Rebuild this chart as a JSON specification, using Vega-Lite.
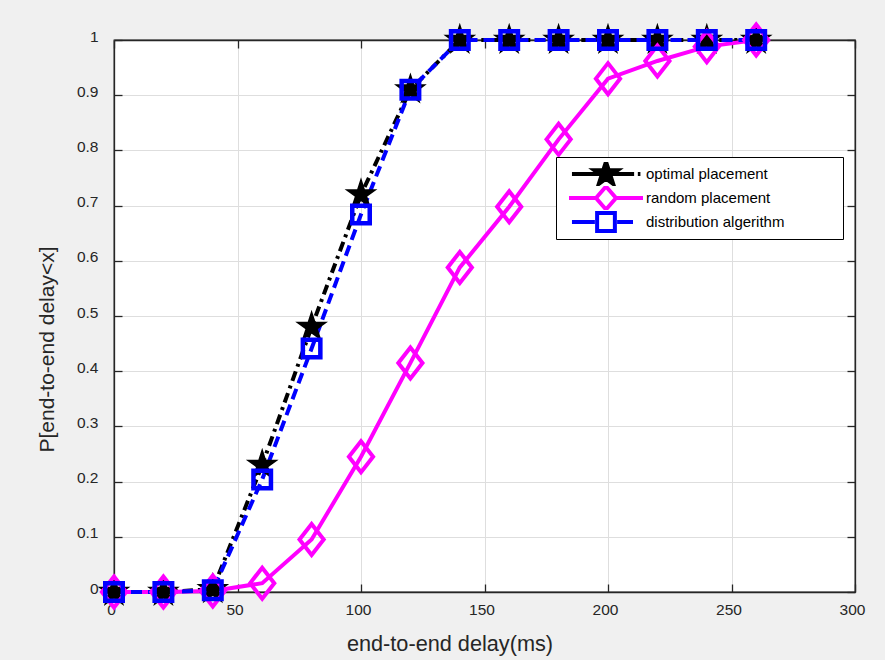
{
  "$schema": "https://vega.github.io/schema/vega-lite/v6.json",
  "width": 741,
  "height": 552,
  "autosize": {"type": "none"},
  "padding": {"left": 114, "top": 40, "right": 30, "bottom": 68},
  "background": "#f0f0f0",
  "config": {
    "font": "Liberation Sans",
    "view": {"fill": "white", "stroke": "#262626", "strokeWidth": 1.3}
  },
  "data": {
    "values": [
      {"x": 0, "p": 0, "s": "optimal placement"},
      {"x": 20, "p": 0, "s": "optimal placement"},
      {"x": 40, "p": 0.005, "s": "optimal placement"},
      {"x": 60, "p": 0.23, "s": "optimal placement"},
      {"x": 80, "p": 0.48, "s": "optimal placement"},
      {"x": 100, "p": 0.72, "s": "optimal placement"},
      {"x": 120, "p": 0.91, "s": "optimal placement"},
      {"x": 140, "p": 1, "s": "optimal placement"},
      {"x": 160, "p": 1, "s": "optimal placement"},
      {"x": 180, "p": 1, "s": "optimal placement"},
      {"x": 200, "p": 1, "s": "optimal placement"},
      {"x": 220, "p": 1, "s": "optimal placement"},
      {"x": 240, "p": 1, "s": "optimal placement"},
      {"x": 260, "p": 1, "s": "optimal placement"},
      {"x": 0, "p": 0, "s": "random placement"},
      {"x": 20, "p": 0, "s": "random placement"},
      {"x": 40, "p": 0.002, "s": "random placement"},
      {"x": 60, "p": 0.016, "s": "random placement"},
      {"x": 80, "p": 0.095, "s": "random placement"},
      {"x": 100, "p": 0.245, "s": "random placement"},
      {"x": 120, "p": 0.415, "s": "random placement"},
      {"x": 140, "p": 0.588, "s": "random placement"},
      {"x": 160, "p": 0.698, "s": "random placement"},
      {"x": 180, "p": 0.82, "s": "random placement"},
      {"x": 200, "p": 0.93, "s": "random placement"},
      {"x": 220, "p": 0.962, "s": "random placement"},
      {"x": 240, "p": 0.988, "s": "random placement"},
      {"x": 260, "p": 1, "s": "random placement"},
      {"x": 0, "p": 0, "s": "distribution algerithm"},
      {"x": 20, "p": 0, "s": "distribution algerithm"},
      {"x": 40, "p": 0.003, "s": "distribution algerithm"},
      {"x": 60, "p": 0.204, "s": "distribution algerithm"},
      {"x": 80, "p": 0.441, "s": "distribution algerithm"},
      {"x": 100, "p": 0.684, "s": "distribution algerithm"},
      {"x": 120, "p": 0.91, "s": "distribution algerithm"},
      {"x": 140, "p": 1, "s": "distribution algerithm"},
      {"x": 160, "p": 1, "s": "distribution algerithm"},
      {"x": 180, "p": 1, "s": "distribution algerithm"},
      {"x": 200, "p": 1, "s": "distribution algerithm"},
      {"x": 220, "p": 1, "s": "distribution algerithm"},
      {"x": 240, "p": 1, "s": "distribution algerithm"},
      {"x": 260, "p": 1, "s": "distribution algerithm"}
    ]
  },
  "resolve": {"axis": {"x": "independent", "y": "independent"}},
  "layer": [
    {
      "transform": [{"filter": "datum.s == 'optimal placement'"}],
      "mark": {"type": "line", "color": "#000000", "strokeWidth": 4, "strokeDash": [10, 5, 3, 5]},
      "encoding": {
        "x": {"field": "x", "type": "quantitative", "scale": {"domain": [0, 300], "nice": false, "zero": false},
          "axis": {"orient": "bottom", "values": [0, 50, 100, 150, 200, 250, 300], "grid": true, "gridColor": "#dedede", "gridWidth": 1,
            "tickSize": -8, "tickColor": "#262626", "tickWidth": 1.3, "domainColor": "#262626", "domainWidth": 1.3,
            "labelFont": "Liberation Sans", "labelFontSize": 15.5, "labelColor": "#262626", "labelPadding": 18, "labelOffset": -3,
            "labelFlush": false, "labelOverlap": false,
            "title": "end-to-end delay(ms)", "titleFont": "Liberation Sans", "titleFontSize": 21.7, "titleFontWeight": "normal",
            "titleColor": "#262626", "titleX": 335.5, "titleY": 58, "titleBaseline": "alphabetic"}},
        "y": {"field": "p", "type": "quantitative", "scale": {"domain": [0, 1], "nice": false},
          "axis": {"orient": "left", "values": [0, 0.1, 0.2, 0.3, 0.4, 0.5, 0.6, 0.7, 0.8, 0.9, 1], "format": "~g", "grid": true, "gridColor": "#dedede", "gridWidth": 1,
            "tickSize": -8, "tickColor": "#262626", "tickWidth": 1.3, "domainColor": "#262626", "domainWidth": 1.3,
            "labelFont": "Liberation Sans", "labelFontSize": 15.5, "labelColor": "#262626", "labelPadding": 24, "labelOffset": -4,
            "labelFlush": false, "labelOverlap": false,
            "title": "P[end-to-end delay<x]", "titleFont": "Liberation Sans", "titleFontSize": 21, "titleFontWeight": "normal",
            "titleColor": "#262626", "titleX": -60.7, "titleY": 309, "titleBaseline": "alphabetic"}}
      }
    },
    {
      "transform": [{"filter": "datum.s == 'random placement'"}],
      "mark": {"type": "line", "color": "#ff00ff", "strokeWidth": 4},
      "encoding": {
        "x": {"field": "x", "type": "quantitative", "axis": null},
        "y": {"field": "p", "type": "quantitative", "axis": null}
      }
    },
    {
      "transform": [{"filter": "datum.s == 'distribution algerithm'"}],
      "mark": {"type": "line", "color": "#0000ff", "strokeWidth": 4, "strokeDash": [11, 6]},
      "encoding": {
        "x": {"field": "x", "type": "quantitative", "axis": null},
        "y": {"field": "p", "type": "quantitative", "axis": null}
      }
    },
    {
      "transform": [{"filter": "datum.s == 'optimal placement'"}],
      "mark": {"type": "point", "shape": "M0,-1L0.2245,-0.309L0.951,-0.309L0.363,0.118L0.588,0.809L0,0.382L-0.588,0.809L-0.363,0.118L-0.951,-0.309L-0.2245,-0.309Z",
        "filled": true, "fill": "#000000", "stroke": "#000000", "strokeWidth": 2, "opacity": 1, "size": 784},
      "encoding": {
        "x": {"field": "x", "type": "quantitative", "axis": null},
        "y": {"field": "p", "type": "quantitative", "axis": null}
      }
    },
    {
      "transform": [{"filter": "datum.s == 'random placement'"}],
      "mark": {"type": "point", "shape": "M-0.78,0L0,-1L0.78,0L0,1Z", "filled": false, "color": "#ff00ff", "strokeWidth": 4, "opacity": 1, "size": 961},
      "encoding": {
        "x": {"field": "x", "type": "quantitative", "axis": null},
        "y": {"field": "p", "type": "quantitative", "axis": null}
      }
    },
    {
      "transform": [{"filter": "datum.s == 'distribution algerithm'"}],
      "mark": {"type": "point", "shape": "square", "filled": false, "color": "#0000ff", "strokeWidth": 4.5, "opacity": 1, "size": 306},
      "encoding": {
        "x": {"field": "x", "type": "quantitative", "axis": null},
        "y": {"field": "p", "type": "quantitative", "axis": null}
      }
    },
    {
      "transform": [{"filter": "datum.p > 5"}],
      "mark": {"type": "point", "filled": false, "opacity": 1, "strokeWidth": 4},
      "encoding": {
        "x": {"field": "x", "type": "quantitative",
          "axis": {"orient": "top", "values": [0, 50, 100, 150, 200, 250, 300], "grid": false, "labels": false, "title": null,
            "tickSize": -8, "tickColor": "#262626", "tickWidth": 1.3, "domainColor": "#262626", "domainWidth": 1.3}},
        "y": {"field": "p", "type": "quantitative",
          "axis": {"orient": "right", "values": [0, 0.1, 0.2, 0.3, 0.4, 0.5, 0.6, 0.7, 0.8, 0.9, 1], "grid": false, "labels": false, "title": null,
            "tickSize": -8, "tickColor": "#262626", "tickWidth": 1.3, "domainColor": "#262626", "domainWidth": 1.3}},
        "color": {"field": "s", "type": "nominal",
          "scale": {"domain": ["optimal placement", "random placement", "distribution algerithm"], "range": ["#000000", "#ff00ff", "#0000ff"]},
          "legend": {"orient": "none", "legendX": 442, "legendY": 117, "title": null,
            "fillColor": "white", "strokeColor": "#000000", "padding": 5, "cornerRadius": 0,
            "symbolSize": 5476, "symbolStrokeWidth": 4, "symbolOffset": 6, "clipHeight": 24, "rowPadding": 0,
            "labelFont": "Liberation Sans", "labelFontSize": 15, "labelColor": "#000000", "labelOffset": 1, "labelLimit": 400,
            "labelExpr": "datum.label == 'distribution algerithm' ? datum.label + '\u00a0\u00a0\u00a0\u00a0\u00a0\u00a0\u00a0\u00a0\u00a0\u00a0\u2800' : datum.label"}},
        "shape": {"field": "s", "type": "nominal",
          "scale": {"domain": ["optimal placement", "random placement", "distribution algerithm"],
            "range": [
              "M-0.92,0H0.76M0.86,0H0.93M0,-0.33L0.074,-0.102L0.314,-0.102L0.12,0.039L0.194,0.267L0,0.126L-0.194,0.267L-0.12,0.039L-0.314,-0.102L-0.074,-0.102ZM0,-0.15L0.034,-0.046L0.143,-0.046L0.054,0.018L0.088,0.121L0,0.057L-0.088,0.121L-0.054,0.018L-0.143,-0.046L-0.034,-0.046Z",
              "M-1,0H-0.27M0.27,0H1M-0.27,0L0,-0.31L0.27,0L0,0.31Z",
              "M-0.92,0H-0.3M0.3,0H0.73M-0.24,-0.24H0.24V0.24H-0.24Z"
            ]},
          "legend": {"orient": "none", "legendX": 442, "legendY": 117, "title": null,
            "fillColor": "white", "strokeColor": "#000000", "padding": 5, "cornerRadius": 0,
            "symbolSize": 5476, "symbolStrokeWidth": 4, "symbolOffset": 6, "clipHeight": 24, "rowPadding": 0,
            "labelFont": "Liberation Sans", "labelFontSize": 15, "labelColor": "#000000", "labelOffset": 1, "labelLimit": 400,
            "labelExpr": "datum.label == 'distribution algerithm' ? datum.label + '\u00a0\u00a0\u00a0\u00a0\u00a0\u00a0\u00a0\u00a0\u00a0\u00a0\u2800' : datum.label"}}
      }
    }
  ]
}
